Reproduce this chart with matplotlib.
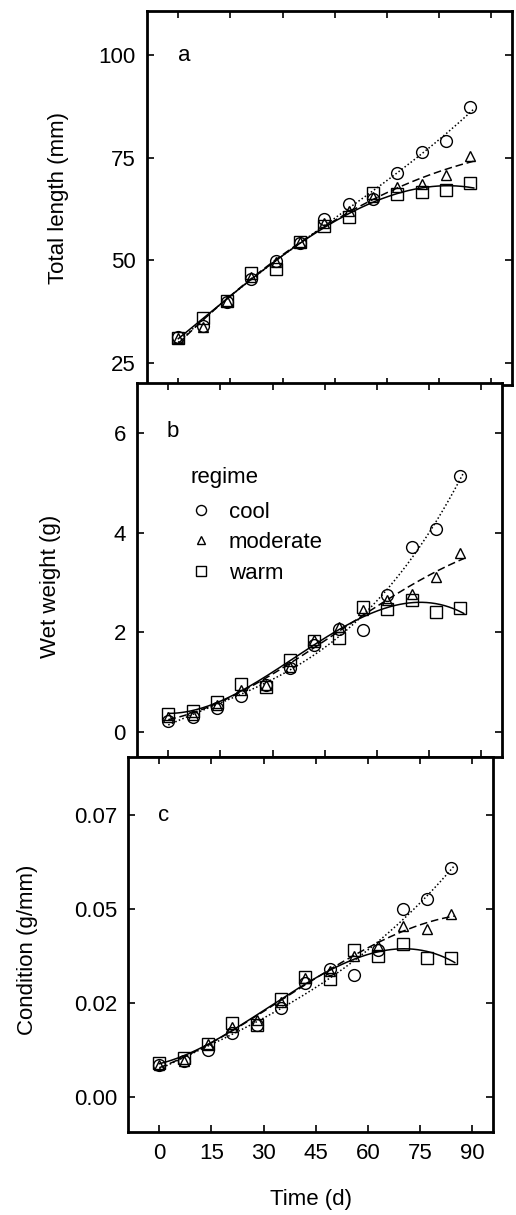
import numpy as np
import matplotlib
matplotlib.use('Agg')
import matplotlib.pyplot as plt
from matplotlib.lines import Line2D

plt.rcParams['font.family'] = ['Liberation Sans', 'DejaVu Sans']

days = [0, 7, 14, 21, 28, 35, 42, 49, 56, 63, 70, 77, 84]

# a: total length (mm)
len_cool = [31.3, 34.0, 39.9, 45.3, 49.7, 54.3, 60.1, 63.8, 65.0, 71.3, 76.3, 79.1, 87.2]
len_mod = [31.0, 33.8, 40.0, 46.0, 49.5, 54.5, 59.0, 62.0, 65.5, 67.9, 68.5, 70.7, 75.4]
len_warm = [31.0, 35.8, 40.0, 46.9, 47.9, 54.5, 58.3, 60.5, 66.3, 66.2, 66.6, 67.0, 68.7]

# b: wet weight (g)
wt_cool = [0.22, 0.30, 0.48, 0.73, 0.94, 1.29, 1.75, 2.07, 2.04, 2.74, 3.72, 4.08, 5.13]
wt_mod = [0.30, 0.35, 0.55, 0.85, 0.95, 1.30, 1.85, 2.10, 2.44, 2.65, 2.77, 3.10, 3.59]
wt_warm = [0.36, 0.43, 0.61, 0.96, 0.91, 1.45, 1.83, 1.88, 2.51, 2.47, 2.65, 2.41, 2.49]

# c: condition (g/mm)
cond_cool = [0.0080, 0.0089, 0.0117, 0.0159, 0.0180, 0.0220, 0.0282, 0.0317, 0.0302, 0.0365, 0.0466, 0.0492, 0.0567]
cond_mod = [0.0079, 0.0089, 0.0131, 0.0174, 0.0192, 0.0235, 0.0295, 0.0314, 0.0351, 0.0374, 0.0425, 0.0418, 0.0454]
cond_warm = [0.0085, 0.0097, 0.0133, 0.0183, 0.0180, 0.0244, 0.0297, 0.0293, 0.0364, 0.0349, 0.0380, 0.0344, 0.0346]

x_ticks = [0, 15, 30, 45, 60, 75, 90]
c_ticks = [0.0, 0.07 / 3, 0.14 / 3, 0.07]
c_ticklabels = ['0.00', '0.02', '0.05', '0.07']

W, H = 516, 1215
fig = plt.figure(figsize=(W / 100, H / 100), dpi=100)

def px_axes(left, top, width, height):
    return fig.add_axes([left / W, 1 - (top + height) / H, width / W, height / H])

axa = px_axes(147, 11, 365, 374)
axb = px_axes(137, 383, 365, 374)
axc = px_axes(128, 757, 365, 375)

# marker, line style, marker size
styles = [('o', ':', 8.5), ('^', '--', 6.5), ('s', '-', 8.5)]
fit_x = np.linspace(0, 85, 200)

def panel(ax, series):
    for (mk, ls, ms), y in zip(styles, series):
        coef = np.polyfit(days, y, 3)
        kw = {}
        if ls == '--':
            kw['dashes'] = (5, 2.5)
        elif ls == ':':
            kw['dashes'] = (1, 1.5)
        ax.plot(fit_x, np.polyval(coef, fit_x), color='black', ls=ls, lw=1.1, **kw)
        ax.plot(days, y, ls='none', marker=mk, ms=ms, mfc='none', mec='black', mew=1.0)
    ax.set_xlim(-9, 96)
    ax.set_xticks(x_ticks)
    ax.tick_params(direction='in', top=True, right=True, length=5, width=1.2,
                   labelsize=16, pad=8)
    for s in ax.spines.values():
        s.set_linewidth(2.0)

panel(axa, [len_cool, len_mod, len_warm])
axa.set_ylim(19.6, 110.7)
axa.set_yticks([25, 50, 75, 100])
axa.set_xticklabels([])
axa.set_ylabel('Total length (mm)', fontsize=16)
axa.yaxis.set_label_coords(-0.215, 0.5)
axa.text(0.085, 0.88, 'a', transform=axa.transAxes, fontsize=16, va='center')

panel(axb, [wt_cool, wt_mod, wt_warm])
axb.set_ylim(-0.5, 7.0)
axb.set_yticks([0, 2, 4, 6])
axb.set_xticklabels([])
axb.set_ylabel('Wet weight (g)', fontsize=16)
axb.yaxis.set_label_coords(-0.208, 0.457)
axb.text(0.082, 0.87, 'b', transform=axb.transAxes, fontsize=16, va='center')

handles = [Line2D([], [], ls='none', marker=mk, ms=ms * 0.85, mfc='none', mec='black', mew=1.0)
           for mk, ls, ms in styles]
leg = axb.legend(handles, ['cool', 'moderate', 'warm'], title='regime', loc='upper left',
                 bbox_to_anchor=(0.115, 0.805), frameon=False, fontsize=16, title_fontsize=16,
                 handlelength=1.0, handletextpad=0.75, labelspacing=0.42, borderpad=0,
                 alignment='left')
leg._legend_box.sep = 10

panel(axc, [cond_cool, cond_mod, cond_warm])
axc.set_ylim(-0.0086, 0.0843)
axc.set_yticks(c_ticks)
axc.set_yticklabels(c_ticklabels)
axc.set_ylabel('Condition (g/mm)', fontsize=16)
axc.yaxis.set_label_coords(-0.247, 0.485)
axc.set_xlabel('Time (d)', fontsize=16, labelpad=18)
axc.text(0.082, 0.845, 'c', transform=axc.transAxes, fontsize=16, va='center')

fig.savefig('out.png', dpi=100)
